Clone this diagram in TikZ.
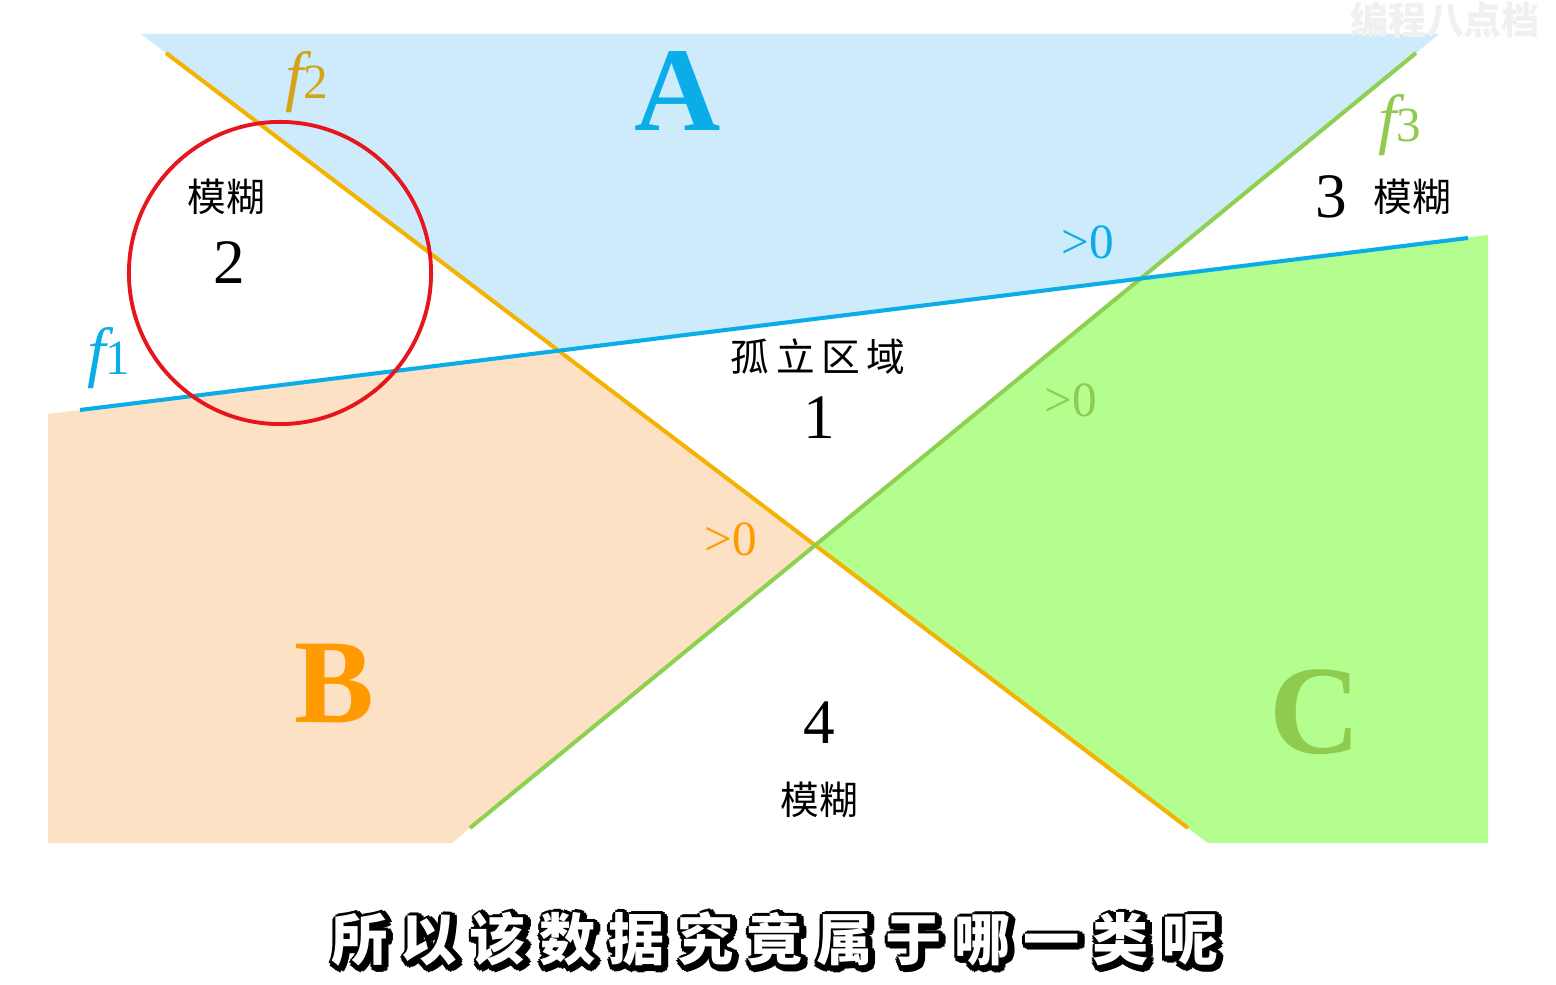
\documentclass[tikz,border=0pt]{standalone}
\usepackage{fontspec}
\setmainfont{Liberation Serif}
\newfontfamily\cjk{Noto Sans CJK SC}
\newfontfamily\cjkcap{Noto Sans CJK SC}[LetterSpace=23]
\usetikzlibrary{calc}
\definecolor{skyfill}{HTML}{CDEBFA}
\definecolor{peachfill}{HTML}{FCE1C4}
\definecolor{limefill}{HTML}{B4FE8F}
\definecolor{skyln}{HTML}{0BADE9}
\definecolor{amberln}{HTML}{F5B301}
\definecolor{grassln}{HTML}{8ED151}
\definecolor{ringred}{HTML}{E6161E}
\definecolor{goldtxt}{HTML}{D4A418}
\definecolor{orangetxt}{HTML}{FF9A00}
\definecolor{grasstxt}{HTML}{8FCB4E}

\begin{document}
\begin{tikzpicture}[x=0.01cm,y=-0.01cm,every node/.style={inner sep=0pt},
 ln/.style={line width=1.15pt},
 num/.style={font=\fontsize{18}{18}\selectfont},
 mh/.style={font=\cjk\fontsize{11}{11}\selectfont},
 gt/.style={font=\fontsize{14}{14}\selectfont},
 big/.style={font=\bfseries\fontsize{34}{34}\selectfont},
 fl/.style={font=\itshape\fontsize{19}{19}\selectfont},
 sub/.style={font=\cjkcap\bfseries\fontsize{16}{16}\selectfont}]
\useasboundingbox[fill=white] (0,0) rectangle (1556,985);
\coordinate (b1) at (80,410); \coordinate (b2) at (1468,238);
\coordinate (o1) at (166,53); \coordinate (o2) at (1188,828);
\coordinate (g1) at (470,828); \coordinate (g2) at (1416,53);
\coordinate (bo) at (intersection of b1--b2 and o1--o2);
\coordinate (bg) at (intersection of b1--b2 and g1--g2);
\coordinate (og) at (intersection of o1--o2 and g1--g2);
\fill[skyfill] (141,34) -- (1439,34) -- (g2) -- (bg) -- (bo) -- (o1) -- cycle;
\fill[peachfill] (48,414) -- (bo) -- (og) -- (g1) -- (452,843) -- (48,843) -- cycle;
\fill[limefill] (bg) -- (1488,235) -- (1488,843) -- (1208,843) -- (o2) -- (og) -- cycle;
\draw[ln,amberln] (o1) -- (o2);
\draw[ln,grassln] (g1) -- (g2);
\draw[ln,skyln] (b1) -- (b2);
\node[draw=ringred,line width=1.1pt,circle,minimum size=3.02cm] (ring) at (280,273) {};
\node[fl,text=goldtxt] (f2) at (307,82) {f\upshape\fontsize{14}{14}\selectfont 2};
\node[fl,text=skyln] (f1) at (109,358) {f\upshape\fontsize{14}{14}\selectfont 1};
\node[fl,text=grasstxt] (f3) at (1400,125) {f\upshape\fontsize{14}{14}\selectfont 3};
\node[mh] (fz2) at (226,197) {模糊};
\node[num] (n2) at (229,263) {2};
\node[big,text=skyln] (la) at (678,91) {A};
\node[gt,text=skyln] (gtA) at (1088,242) {>0};
\node[num] (n3) at (1331,197) {3};
\node[mh] (fz3) at (1412,197) {模糊};
\node[mh] (gl) at (818,357) {孤\,立\,区\,域};
\node[num] (n1) at (819,418) {1};
\node[gt,text=grasstxt] (gtC) at (1071,400) {>0};
\node[gt,text=orangetxt] (gtB) at (731,539) {>0};
\node[big,text=orangetxt] (lb) at (334,684) {B};
\node[big,text=grasstxt,font=\bfseries\fontsize{36}{36}\selectfont] (lc) at (1315,712) {C};
\node[num] (n4) at (819,723) {4};
\node[mh] (fz4) at (819,800) {模糊};
\node[font=\cjk\bfseries\fontsize{10.8}{10.8}\selectfont,text=black!6] (mark) at (1445,20) {编程八点档};
\foreach \a in {0,30,...,330}
 \node[sub,text=black] (sh\a) at ($(775,939)+(0.6pt,-0.6pt)+(\a:1.4pt)$) {所以该数据究竟属于哪一类呢};
\node[sub,text=white] (cap) at (775,939) {所以该数据究竟属于哪一类呢};
\end{tikzpicture}
\end{document}
